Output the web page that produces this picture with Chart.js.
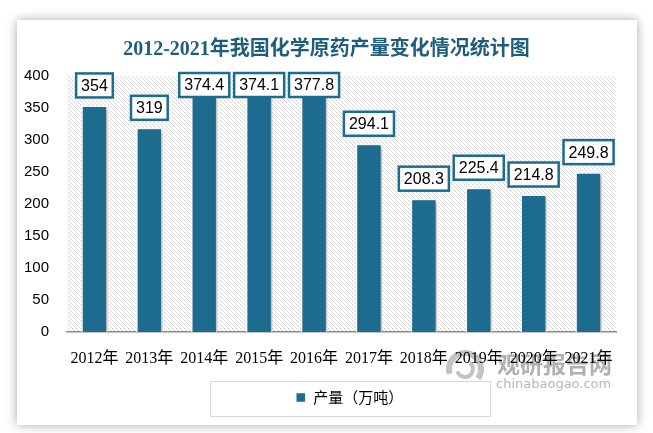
<!DOCTYPE html>
<html>
<head>
<meta charset="utf-8">
<script src="https://cdn.jsdelivr.net/npm/chart.js@4.4.0/dist/chart.umd.min.js"></script>
<style>
  html, body { margin: 0; padding: 0; background: #fff; }
  #wrap { width: 653px; height: 433px; }
</style>
</head>
<body>
<div id="wrap"><canvas id="outputChart"></canvas></div>
<script>
const years = ["2012年", "2013年", "2014年", "2015年", "2016年", "2017年", "2018年", "2019年", "2020年", "2021年"];
const output = [354, 319, 374.4, 374.1, 377.8, 294.1, 208.3, 225.4, 214.8, 249.8];
const yMin = 0;
const yMax = 400;
const yStep = 50;

const barColor = "#1d6b8f";
const outputChart = document.getElementById("outputChart");

// dotted diagonal hatch used behind the bars
function makeHatch() {
    const n = 4;
    const c = document.createElement("canvas");
    c.width = n;
    c.height = n;
    const g = c.getContext("2d");
    g.fillStyle = "#ffffff";
    g.fillRect(0, 0, n, n);
    for (let i = 0; i < n; i++) {
        g.fillStyle = i % 2 === 0 ? "#cfcfcf" : "#e2e2e2";
        g.fillRect(i, i, 1, 1);
    }
    return g.createPattern(c, "repeat");
}

function drawWatermark(ctx) {
    ctx.save();
    ctx.globalAlpha = 0.8;
    ctx.strokeStyle = "#b4b4b4";
    ctx.lineWidth = 6;
    ctx.beginPath();
    ctx.arc(465, 369, 16, Math.PI * 0.9, Math.PI * 2.2);
    ctx.stroke();
    ctx.lineWidth = 4;
    ctx.beginPath();
    ctx.arc(465, 369, 8, Math.PI * 1.7, Math.PI * 2.9);
    ctx.stroke();
    ctx.fillStyle = "#9c9c9c";
    ctx.font = 'bold 23px "Noto Sans CJK SC", sans-serif';
    ctx.textAlign = "left";
    ctx.textBaseline = "middle";
    ctx.fillText("观研报告网", 497, 364);
    ctx.fillStyle = "#a4a4a4";
    ctx.font = '13px "DejaVu Sans", sans-serif';
    ctx.fillText("chinabaogao.com", 496, 385);
    ctx.restore();
}

const cardPlugin = {
    id: "card",
    afterLayout(chart) {
        // legend and title sit off the plot centre in the original
        chart.legend.left += 33;
        chart.legend.right += 33;
        chart.titleBlock.left += 10;
        chart.titleBlock.right += 10;
    },
    beforeDraw(chart) {
        const ctx = chart.ctx;
        const area = chart.chartArea;
        ctx.save();
        ctx.shadowColor = "rgba(0,0,0,0.35)";
        ctx.shadowBlur = 10;
        ctx.fillStyle = "#ffffff";
        ctx.fillRect(17, 20, 620, 405);
        ctx.restore();
        ctx.save();
        ctx.fillStyle = makeHatch();
        ctx.fillRect(area.left, area.top, area.right - area.left, area.bottom - area.top);
        ctx.restore();
        drawWatermark(ctx);
    },
    beforeDatasetsDraw(chart) {
        const ctx = chart.ctx;
        ctx.save();
        ctx.shadowColor = "rgba(0,0,0,0.3)";
        ctx.shadowBlur = 4;
        ctx.shadowOffsetX = 2;
        ctx.shadowOffsetY = 2;
    },
    afterDatasetsDraw(chart) {
        const ctx = chart.ctx;
        ctx.restore();
        // boxed value labels
        const meta = chart.getDatasetMeta(0);
        ctx.save();
        ctx.font = '16px "Liberation Sans", Arial, sans-serif';
        ctx.textAlign = "center";
        ctx.textBaseline = "middle";
        meta.data.forEach((bar, i) => {
            const txt = String(output[i]);
            const w = ctx.measureText(txt).width + 10;
            const h = 24;
            let top = bar.y - 8 - h;
            if (top < chart.chartArea.top - 3) top = chart.chartArea.top - 3;
            ctx.fillStyle = "#ffffff";
            ctx.fillRect(bar.x - w / 2, top, w, h);
            ctx.strokeStyle = barColor;
            ctx.lineWidth = 2.5;
            ctx.strokeRect(bar.x - w / 2, top, w, h);
            ctx.fillStyle = "#000000";
            ctx.fillText(txt, bar.x, top + h / 2 + 1);
        });
        ctx.restore();
    },
    afterDraw(chart) {
        const ctx = chart.ctx;
        const lg = chart.legend;
        // frame round the legend
        const cx = (lg.left + lg.right) / 2;
        const cy = (lg.top + lg.bottom) / 2;
        ctx.save();
        ctx.strokeStyle = "#d9d9d9";
        ctx.lineWidth = 1;
        ctx.strokeRect(Math.round(cx - 140) + 0.5, Math.round(cy - 17) + 0.5, 280, 35);
        ctx.restore();
    }
};

new Chart(outputChart, {
    type: "bar",
    data: {
        labels: years,
        datasets: [
            {
                label: "产量（万吨）",
                data: output,
                backgroundColor: barColor,
                borderColor: "#ffffff",
                borderWidth: 1.5,
                barPercentage: 0.48,
                categoryPercentage: 1,
            },
        ],
    },
    options: {
        responsive: true,
        maintainAspectRatio: false,
        animation: false,
        layout: {
            padding: { left: 17, right: 37, top: 20, bottom: 18 },
        },
        plugins: {
            title: {
                display: true,
                text: "2012-2021年我国化学原药产量变化情况统计图",
                color: "#1f5d7c",
                font: { family: '"Liberation Serif", "Noto Sans CJK SC", serif', size: 20, weight: "bold" },
                padding: { top: 18, bottom: 14 },
            },
            legend: {
                position: "bottom",
                labels: {
                    color: "#000000",
                    font: { family: '"Noto Sans CJK SC", sans-serif', size: 15 },
                    boxWidth: 10,
                    boxHeight: 10,
                    padding: 10,
                },
            },
            tooltip: { enabled: false },
        },
        scales: {
            x: {
                grid: { display: false },
                border: { color: "#8c8c8c", width: 1.5 },
                ticks: {
                    color: "#000000",
                    font: { family: '"Liberation Serif", "Noto Sans CJK SC", serif', size: 16 },
                    maxRotation: 0,
                    autoSkip: false,
                    padding: 9,
                },
                afterFit(scale) {
                    scale.height = 48;
                },
            },
            y: {
                min: yMin,
                max: yMax,
                grid: { display: false },
                border: { display: false },
                ticks: {
                    stepSize: yStep,
                    color: "#000000",
                    font: { family: '"Liberation Sans", Arial, sans-serif', size: 15 },
                    padding: 10,
                },
                afterFit(scale) {
                    scale.width = 50;
                },
            },
        },
    },
    plugins: [cardPlugin],
});
</script>
</body>
</html>
